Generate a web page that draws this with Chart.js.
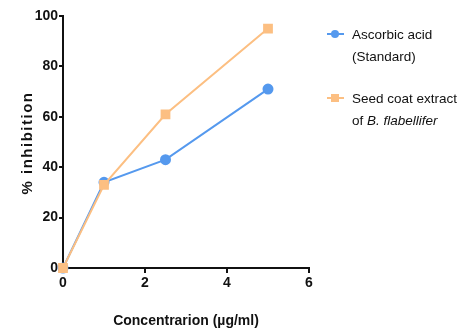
<!DOCTYPE html>
<html>
<head>
<meta charset="utf-8">
<script src="https://cdn.jsdelivr.net/npm/chart.js@4"></script>
<style>
  body { margin: 0; background: #fff; }
  #wrap { position: relative; width: 475px; height: 334px; }
  #legend { position: absolute; left: 327px; top: 24px; font-family: 'Liberation Sans', Arial, sans-serif; font-size: 13.5px; color: #111; line-height: 22px; }
  .item { position: relative; padding-left: 25px; margin-bottom: 20px; }
  .mk { position: absolute; left: 0; top: 9px; width: 17px; height: 2px; }
  .mk i { position: absolute; left: 4px; top: -3.5px; width: 8px; height: 8px; }
</style>
</head>
<body>
<div id="wrap">
  <canvas id="chart" width="475" height="334"></canvas>
  <div id="legend">
    <div class="item"><span class="mk" style="background:#5599ee"><i style="background:#5599ee;border-radius:50%"></i></span>Ascorbic acid<br>(Standard)</div>
    <div class="item"><span class="mk" style="background:#fcbf82"><i style="background:#fcbf82"></i></span>Seed coat extract<br>of <i>B. flabellifer</i></div>
  </div>
</div>
<script>
// data
const concentrations = [0, 1, 2.5, 5];
const ascorbicValues = [0, 34, 43, 71];
const seedCoatValues = [0, 33, 61, 95];
const yTitle = '% inhibition';

const blue = '#5599ee';
const orange = '#fcbf82';
const tickFont = { family: "'Liberation Sans', Arial", size: 14, weight: 'bold' };

function toPoints(ys) {
  return concentrations.map((x, i) => ({ x: x, y: ys[i] }));
}

// y-axis title drawn with letter spacing (wide bold look of the original)
const spacedYTitle = {
  id: 'spacedYTitle',
  afterDraw(chart) {
    const c = chart.ctx;
    const area = chart.chartArea;
    c.save();
    c.translate(28, (area.top + area.bottom) / 2 + 1);
    c.rotate(-Math.PI / 2);
    c.font = "bold 15px 'Liberation Sans', Arial";
    c.letterSpacing = '1.5px';
    c.fillStyle = '#111';
    c.textAlign = 'center';
    c.textBaseline = 'middle';
    c.fillText(yTitle, 0, 0);
    c.restore();
  }
};

const ctx = document.getElementById('chart');
new Chart(ctx, {
  type: 'scatter',
  data: {
    datasets: [
      {
        label: 'Seed coat extract of B. flabellifer',
        data: toPoints(seedCoatValues),
        showLine: true,
        borderColor: orange,
        backgroundColor: orange,
        borderWidth: 2,
        pointStyle: 'rect',
        pointRadius: 5.5,
        clip: false
      },
      {
        label: 'Ascorbic acid (Standard)',
        data: toPoints(ascorbicValues),
        showLine: true,
        borderColor: blue,
        backgroundColor: blue,
        borderWidth: 2,
        pointStyle: 'circle',
        pointRadius: 4.5,
        clip: false
      }
    ]
  },
  options: {
    responsive: false,
    animation: false,
    layout: { padding: { top: 16, right: 166, left: 0, bottom: 0 } },
    plugins: { legend: { display: false }, tooltip: { enabled: false } },
    scales: {
      x: {
        type: 'linear',
        min: 0,
        max: 6,
        ticks: { stepSize: 2, color: '#111', font: tickFont, padding: 2 },
        border: { color: '#111', width: 2 },
        grid: { drawOnChartArea: false, color: '#111', lineWidth: 2, tickLength: 5 },
        title: {
          display: true,
          text: 'Concentrarion (µg/ml)',
          color: '#111',
          font: { family: "'Liberation Sans', Arial", size: 14, weight: 'bold' },
          padding: { top: 10 }
        },
        afterFit: (s) => { s.height = 66; }
      },
      y: {
        min: 0,
        max: 100,
        ticks: { stepSize: 20, color: '#111', font: tickFont, padding: 1 },
        border: { color: '#111', width: 2 },
        grid: { drawOnChartArea: false, color: '#111', lineWidth: 2, tickLength: 4 },
        afterFit: (s) => { s.width = 63; }
      }
    }
  },
  plugins: [spacedYTitle]
});
</script>
</body>
</html>
